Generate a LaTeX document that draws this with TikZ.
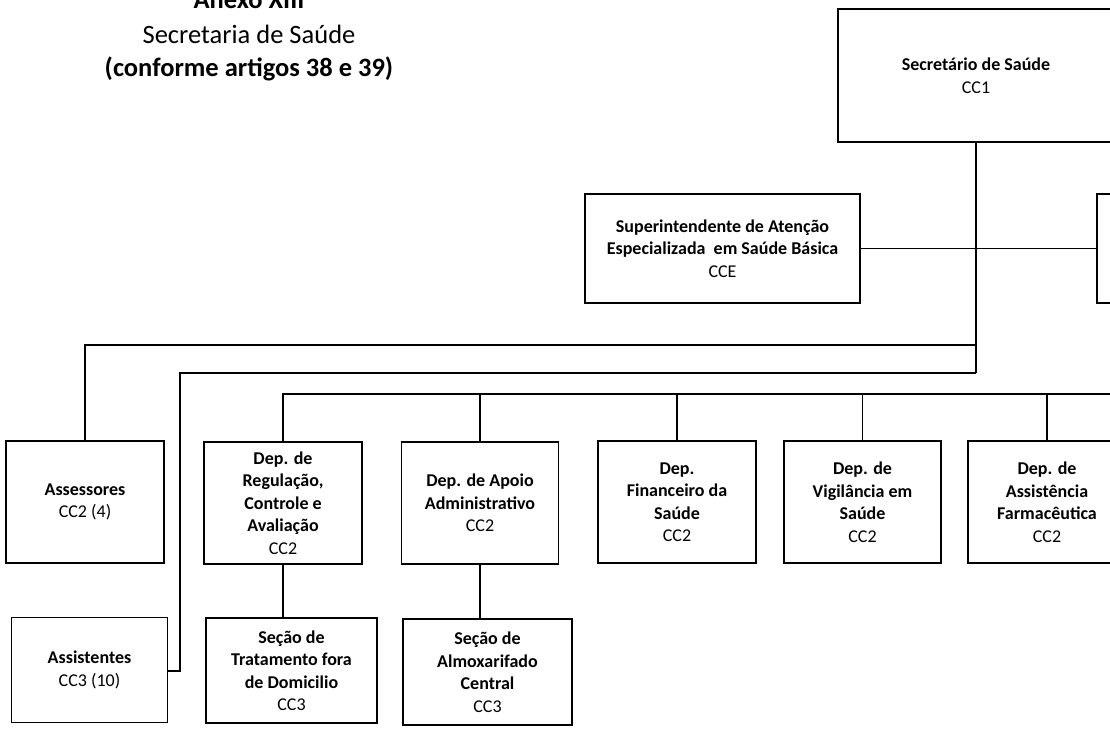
\documentclass[tikz,border=0pt]{standalone}
\usepackage{fontspec}
\setmainfont{Carlito}
\begin{document}
\begin{tikzpicture}[x=1pt,y=-1pt,
  box/.style={draw,line width=1.8pt,align=center,inner sep=0pt,
    font=\fontsize{18}{22.5}\selectfont},
  boxsize/.style 2 args={minimum width=#1pt,minimum height=#2pt},
  link/.style={line width=1.1pt},
  ttl/.style={anchor=base,inner sep=0pt,font=\fontsize{26.5}{33}\selectfont}]
\useasboundingbox (0,0) rectangle (1110,728);
\clip (0,0) rectangle (1110,728);

% title
\node[ttl,font=\fontsize{26.5}{33}\selectfont\bfseries] (t1) at (249,9) {Anexo XIII};
\node[ttl] (t2) at (249,43) {Secretaria de Saúde};
\node[ttl,font=\fontsize{26.5}{33}\selectfont\bfseries] (t3) at (249,76) {(conforme artigos 38 e 39)};

% boxes
\node[box,boxsize={276}{133}] (sec) at (976,75.5) {\textbf{Secretário de Saúde}\\CC1};
\node[box,boxsize={275}{109}] (sup) at (722.5,248.5) {\textbf{Superintendente de Atenção}\\\textbf{Especializada\ \ em Saúde Básica}\\CCE};
\node[box,boxsize={280}{109}] (rbox) at (1237,248.5) {};

\node[box,boxsize={158}{122}] (ass) at (85,502) {\textbf{Assessores}\\CC2 (4)};
\node[box,boxsize={158}{122}] (reg) at (283,503) {\textbf{Dep. de}\\\textbf{Regulação,}\\\textbf{Controle e}\\\textbf{Avaliação}\\CC2};
\node[box,boxsize={157}{122}] (apo) at (480,503) {\textbf{Dep. de Apoio}\\\textbf{Administrativo}\\CC2};
\node[box,boxsize={158}{122}] (fin) at (677,502) {\textbf{Dep.}\\\textbf{Financeiro da}\\\textbf{Saúde}\\CC2};
\node[box,boxsize={157}{122}] (vig) at (862.5,502) {\textbf{Dep. de}\\\textbf{Vigilância em}\\\textbf{Saúde}\\CC2};
\node[box,boxsize={158}{122}] (far) at (1047,502) {\textbf{Dep. de}\\\textbf{Assistência}\\\textbf{Farmacêutica}\\CC2};

\node[box,boxsize={156}{105}] (ast) at (89.5,670) {\textbf{Assistentes}\\CC3 (10)};
\node[box,boxsize={171}{105}] (tra) at (291.5,670.5) {\textbf{Seção de}\\\textbf{Tratamento fora}\\\textbf{de Domicilio}\\CC3};
\node[box,boxsize={169}{106}] (alm) at (487.5,672) {\textbf{Seção de}\\\textbf{Almoxarifado}\\\textbf{Central}\\CC3};

% connectors
\coordinate (jA) at (976,345);
\coordinate (jB) at (976,373);
\coordinate (jC) at (180,671);
\coordinate (bus) at (1120,394);

\draw[link] (sec.south) -- (jB);
\draw[link] (sup.east) -- (rbox.west);
\draw[link] (jA) -| (ass.north);
\draw[link] (jB) -| (jC) -- (jC -| ast.east);
\draw[link] (reg.north) |- (bus);
\foreach \n in {apo,fin,vig,far} {
  \draw[link] (\n.north) -- (\n.north |- bus);
}
\draw[link] (reg.south) -- (reg.south |- tra.north);
\draw[link] (apo.south) -- (apo.south |- alm.north);
\end{tikzpicture}
\end{document}
